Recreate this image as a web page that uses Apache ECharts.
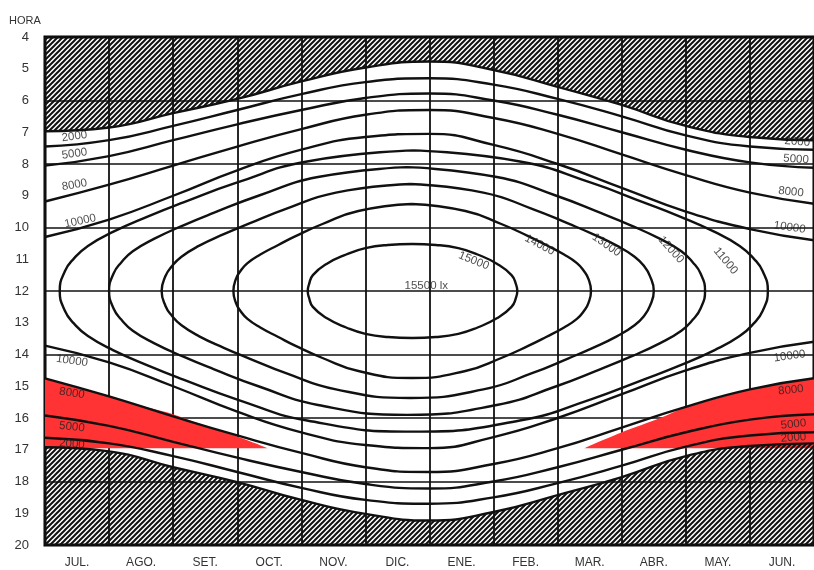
<!DOCTYPE html>
<html><head><meta charset="utf-8">
<script src="https://cdn.jsdelivr.net/npm/echarts@6/dist/echarts.min.js"></script>
<style>html,body{margin:0;padding:0;background:#fff}#c{width:814px;height:570px}</style>
</head><body><div id="c"></div>
<script>
// ---------- DATA ----------
const monthLabels = ['JUL.','AGO.','SET.','OCT.','NOV.','DIC.','ENE.','FEB.','MAR.','ABR.','MAY.','JUN.'];
const hourMin = 4, hourMax = 20;
const monthPos = [0,1,2,3,4,5,6,7,8,9,10,11,12];

// open isolux curves (morning / afternoon hour at each month boundary)
const sunrise  = [6.97,6.85,6.40,5.95,5.40,4.96,4.77,5.04,5.57,6.14,6.80,7.15,7.25];
const sunset   = [16.92,17.05,17.55,18.02,18.58,19.02,19.23,18.96,18.43,17.86,17.20,16.88,16.80];
const lux2000Am  = [7.45,7.25,6.80,6.30,5.80,5.42,5.30,5.50,5.95,6.50,7.10,7.45,7.55];
const lux2000Pm  = [16.62,16.80,17.20,17.70,18.20,18.58,18.70,18.50,18.05,17.50,16.90,16.55,16.45];
const lux5000Am  = [8.05,7.75,7.25,6.75,6.30,5.92,5.78,6.00,6.45,7.00,7.55,7.95,8.12];
const lux5000Pm  = [15.92,16.25,16.75,17.25,17.70,18.08,18.22,18.00,17.55,17.00,16.45,16.05,15.88];
const lux8000Am  = [9.18,8.65,8.05,7.45,6.90,6.45,6.30,6.55,7.05,7.70,8.35,8.90,9.25];
const lux8000Pm  = [14.75,15.32,15.95,16.55,17.10,17.55,17.70,17.45,16.95,16.30,15.65,15.10,14.75];
const lux10000Am = [10.30,9.75,9.00,8.20,7.55,7.15,7.05,7.40,8.00,8.75,9.50,10.05,10.40];
const lux10000Pm = [13.72,14.25,15.00,15.80,16.45,16.85,16.95,16.60,16.00,15.25,14.50,13.95,13.60];

// closed isolux curves: month, morning hour, afternoon hour
const lux11000Month = [0.23,0.31,0.45,0.67,1.06,1.61,2.16,2.99,4.09,5.75,7.41,8.52,9.34,9.90,10.45,10.84,11.06,11.20,11.28];
const lux11000Am    = [12,11.38,10.98,10.58,10.14,9.65,9.21,8.59,7.92,7.57,7.92,8.59,9.21,9.65,10.14,10.58,10.98,11.38,12];
const lux11000Pm    = [12,12.62,13.02,13.42,13.86,14.35,14.79,15.41,16.08,16.43,16.08,15.41,14.79,14.35,13.86,13.42,13.02,12.62,12];
const lux12000Month = [1.00,1.07,1.19,1.37,1.70,2.16,2.63,3.33,4.26,5.65,7.05,7.98,8.67,9.14,9.60,9.93,10.11,10.23,10.30];
const lux12000Am    = [12,11.45,11.10,10.75,10.36,9.93,9.54,9.00,8.41,8.10,8.41,9.00,9.54,9.93,10.36,10.75,11.10,11.45,12];
const lux12000Pm    = [12,12.55,12.90,13.25,13.64,14.07,14.46,15.00,15.59,15.90,15.59,15.00,14.46,14.07,13.64,13.25,12.90,12.55,12];
const lux13000Month = [1.82,1.88,1.98,2.13,2.40,2.79,3.18,3.76,4.54,5.70,6.84,7.60,8.17,8.55,8.93,9.20,9.35,9.44,9.50];
const lux13000Am    = [12,11.53,11.22,10.92,10.58,10.21,9.88,9.41,8.90,8.63,8.90,9.41,9.88,10.21,10.58,10.92,11.22,11.53,12];
const lux13000Pm    = [12,12.47,12.78,13.08,13.42,13.79,14.12,14.59,15.10,15.37,15.10,14.59,14.12,13.79,13.42,13.08,12.78,12.47,12];
const lux14000Month = [2.94,2.98,3.05,3.16,3.36,3.64,3.91,4.33,4.89,5.72,6.56,7.12,7.54,7.82,8.10,8.30,8.41,8.48,8.52];
const lux14000Am    = [12,11.62,11.37,11.12,10.85,10.55,10.27,9.89,9.48,9.26,9.48,9.89,10.27,10.55,10.85,11.12,11.37,11.62,12];
const lux14000Pm    = [12,12.38,12.63,12.88,13.15,13.45,13.73,14.11,14.52,14.74,14.52,14.11,13.73,13.45,13.15,12.88,12.63,12.38,12];
const lux15000Month = [4.10,4.12,4.18,4.40,4.70,5.00,5.35,5.73,6.10,6.45,6.75,7.05,7.28,7.35,7.37];
const lux15000Am    = [12,11.79,11.50,11.14,10.85,10.65,10.55,10.52,10.55,10.65,10.85,11.14,11.50,11.79,12];
const lux15000Pm    = [12,12.21,12.50,12.86,13.15,13.35,13.45,13.48,13.45,13.35,13.15,12.86,12.50,12.21,12];

// red shaded zones (top edge; bottom edge is redBase)
const redBase = 16.95;
const redLeftMonth  = [0,0.5,1,1.5,1.9,2.44,3.0,3.48];
const redLeftHour   = [14.75,15.03,15.32,15.62,15.82,16.2,16.58,16.95];
const redRightMonth = [8.42,9.0,9.6,10.0,10.5,11.0,11.5,12];
const redRightHour  = [16.95,16.45,16.0,15.65,15.37,15.1,14.9,14.75];

// curve labels
const labelText  = ['2000','5000','8000','10000','10000','8000','5000','2000',
                    '2000','5000','8000','10000','10000','8000','5000','2000',
                    '11000','12000','13000','14000','15000','15500 lx'];
const labelMonth = [0.46,0.46,0.46,0.55,0.42,0.42,0.42,0.42,
                    11.74,11.72,11.64,11.62,11.62,11.64,11.68,11.68,
                    10.62,9.77,8.76,7.72,6.69,5.95];
const labelHour  = [7.13,7.68,8.66,9.80,14.20,15.22,16.28,16.82,
                    7.30,7.85,8.88,10.0,14.05,15.12,16.20,16.62,
                    11.05,10.70,10.55,10.55,11.05,11.85];
const labelRotate = [8,8,10,12,-8,-8,-6,-4, -4,-4,-6,-8,8,6,6,4, -50,-48,-35,-28,-22,0];

// ---------- BUILD ----------
function hatchPattern(){
  const c = document.createElement('canvas'); c.width = 5; c.height = 5;
  const g = c.getContext('2d');
  g.strokeStyle = '#111'; g.lineWidth = 2;
  g.beginPath();
  g.moveTo(-1,6); g.lineTo(6,-1);
  g.moveTo(-1,1); g.lineTo(1,-1);
  g.moveTo(4,6); g.lineTo(6,4);
  g.stroke();
  return c;
}
const pattern = {image: hatchPattern(), repeat: 'repeat'};
const curveStyle = {color:'#111', width:2.4};

function openSeries(hours, extra){
  return Object.assign({
    type:'line', xAxisIndex:1, yAxisIndex:0, smooth:0.5, symbol:'none', silent:true, z:4,
    lineStyle: curveStyle,
    data: monthPos.map((m,i)=>[m, hours[i]])
  }, extra||{});
}
function closedSeries(ms, am, pm){
  const n = ms.length; let c = 0;
  for (let i=1;i<n;i++) if (am[i] < am[c]) c = i;
  const pts = [];
  for (let i=c;i<n;i++) pts.push([ms[i], am[i]]);
  for (let i=n-2;i>=0;i--) pts.push([ms[i], pm[i]]);
  for (let i=1;i<=c;i++) pts.push([ms[i], am[i]]);
  return {type:'line', xAxisIndex:1, yAxisIndex:0, smooth:0.5, symbol:'none', silent:true, z:4,
          lineStyle: curveStyle, data: pts};
}
function redSeries(ms, hs){
  return {type:'line', xAxisIndex:1, yAxisIndex:0, smooth:0.3, symbol:'none', silent:true, z:1,
          lineStyle:{width:0}, areaStyle:{color:'#ff3333', opacity:1, origin: redBase},
          data: ms.map((m,i)=>[m, hs[i]])};
}

const series = [
  redSeries(redLeftMonth, redLeftHour),
  redSeries(redRightMonth, redRightHour),
  openSeries(sunrise, {z:3, areaStyle:{color:pattern, opacity:1, origin:'start'}}),
  openSeries(sunset,  {z:3, areaStyle:{color:pattern, opacity:1, origin:'end'}}),
  openSeries(lux2000Am), openSeries(lux2000Pm),
  openSeries(lux5000Am), openSeries(lux5000Pm),
  openSeries(lux8000Am), openSeries(lux8000Pm),
  openSeries(lux10000Am), openSeries(lux10000Pm),
  closedSeries(lux11000Month, lux11000Am, lux11000Pm),
  closedSeries(lux12000Month, lux12000Am, lux12000Pm),
  closedSeries(lux13000Month, lux13000Am, lux13000Pm),
  closedSeries(lux14000Month, lux14000Am, lux14000Pm),
  closedSeries(lux15000Month, lux15000Am, lux15000Pm),
  {
    type:'scatter', xAxisIndex:1, yAxisIndex:0, symbolSize:1, silent:true, z:6,
    itemStyle:{color:'rgba(0,0,0,0)'},
    label:{show:true, position:'inside', formatter:'{b}', color:'#222', fontSize:11.5,
           fontFamily:'Liberation Sans, Arial, sans-serif'},
    data: labelText.map((t,i)=>({name:t, value:[labelMonth[i], labelHour[i]],
                                 label:{rotate:labelRotate[i]}}))
  }
];

const chart = echarts.init(document.getElementById('c'), null, {renderer:'canvas'});
chart.setOption({
  animation:false,
  backgroundColor:'#fff',
  title:{text:'HORA', left:4, top:10, textStyle:{fontSize:11, fontWeight:'normal', color:'#333',
         fontFamily:'Liberation Sans, Arial, sans-serif'}},
  grid:{left:45, top:37, width:776, height:508, show:true, borderColor:'#000', borderWidth:3,
        backgroundColor:'#fff'},
  xAxis:[
    {type:'category', data:monthLabels, boundaryGap:true, position:'bottom',
     axisLine:{show:false}, axisTick:{show:false},
     axisLabel:{color:'#333', fontSize:12, margin:12, fontFamily:'Liberation Sans, Arial, sans-serif'},
     splitLine:{show:true, lineStyle:{color:'#111', width:1.8}}},
    {type:'value', min:0, max:12, show:false}
  ],
  yAxis:[
    {type:'value', inverse:true, min:hourMin, max:hourMax, interval:1,
     axisLine:{show:false}, axisTick:{show:false}, splitLine:{show:false},
     axisLabel:{color:'#333', fontSize:13, margin:16, fontFamily:'Liberation Sans, Arial, sans-serif'}},
    {type:'value', inverse:true, min:hourMin, max:hourMax, interval:2, position:'right',
     axisLine:{show:false}, axisTick:{show:false}, axisLabel:{show:false},
     splitLine:{show:true, lineStyle:{color:'#111', width:1.6}}}
  ],
  series: series
});
</script></body></html>
